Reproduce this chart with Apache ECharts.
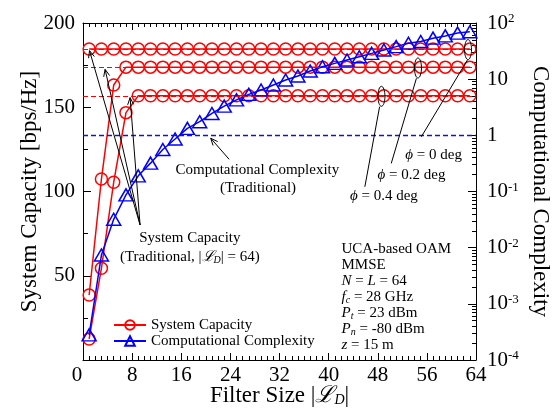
<!DOCTYPE html>
<html><head><meta charset="utf-8">
<script src="https://cdn.jsdelivr.net/npm/echarts@6/dist/echarts.min.js"></script>
<style>html,body{margin:0;padding:0;background:#fff}#c{width:560px;height:412px}</style>
</head><body><div id="c"></div>
<script>
// ---------------- data ----------------
const filterSize = [1,3,5,7,9,11,13,15,17,19,21,23,25,27,29,31,33,35,37,39,41,43,45,47,49,51,53,55,57,59,61,63];
const capPhi0  = [184.6,184.6,184.6,184.6,184.6,184.6,184.6,184.6,184.6,184.6,184.6,184.6,184.6,184.6,184.6,184.6,
                  184.6,184.6,184.6,184.6,184.6,184.6,184.6,184.6,184.6,184.6,184.6,184.6,184.6,184.6,184.6,184.6];
const capPhi02 = [38.6,107.4,163.2,173.8,173.8,173.8,173.8,173.8,173.8,173.8,173.8,173.8,173.8,173.8,173.8,173.8,
                  173.8,173.8,173.8,173.8,173.8,173.8,173.8,173.8,173.8,173.8,173.8,173.8,173.8,173.8,173.8,173.8];
const capPhi04 = [12.5,54.4,105.5,146.8,156.8,156.8,156.8,156.8,156.8,156.8,156.8,156.8,156.8,156.8,156.8,156.8,
                  156.8,156.8,156.8,156.8,156.8,156.8,156.8,156.8,156.8,156.8,156.8,156.8,156.8,156.8,156.8,156.8];
const complexity = [2.8e-4,7.4e-3,0.032,0.087,0.19,0.32,0.56,0.86,1.33,1.75,2.45,3.31,4.27,5.37,6.41,7.87,
                    9.66,11.4,14.0,16.6,19.1,21.9,25.1,28.8,33.1,38.0,43.7,46.8,53.7,58.9,66.1,70.0];
const tradCapacity = [184.6,173.8,156.8];   // Traditional, |L_D| = 64
const tradComplexity = [1];                 // Traditional
const phiLabels = ['0','0.2','0.4'];

// ---------------- style ----------------
const FONT = "'Liberation Serif','DejaVu Serif',serif";
const RED = '#ff0000', BLUE = '#0000ff', BLACK = '#000';
const TICK = 21, NAME = 23, SMALL = 15;

const chart = echarts.init(document.getElementById('c'), null, {renderer:'canvas'});

const axisLineStyle = {show:true, onZero:false, lineStyle:{color:BLACK, width:1}};
function capSeries(arr, mark) {
  const s = {
    name:'System Capacity', type:'line', xAxisIndex:0, yAxisIndex:0,
    data: filterSize.map((x,i)=>[x, arr[i]]),
    symbol:'circle', symbolSize:12, showAllSymbol:true,
    lineStyle:{color:RED, width:1.5},
    itemStyle:{color:'rgba(255,255,255,0)', borderColor:RED, borderWidth:1.5},
    emphasis:{disabled:true}, z:3
  };
  if (mark) s.markLine = {
    silent:true, symbol:['none','none'], label:{show:false},
    lineStyle:{color:RED, type:[5,3], width:1.2},
    data: tradCapacity.map(v=>({yAxis:v}))
  };
  return s;
}

const logMinor = [];
for (let n=-4; n<2; n++) for (let k=2; k<10; k++) logMinor.push(n + Math.log10(k));

const option = {
  animation:false,
  backgroundColor:'#fff',
  grid:{left:83, right:84, top:23, bottom:52, containLabel:false, outerBoundsMode:'none'},
  legend:{
    orient:'vertical', left:113, top:317, padding:0, itemWidth:32, itemHeight:12, itemGap:0,
    textStyle:{fontFamily:FONT, fontSize:SMALL, color:BLACK, lineHeight:16},
    data:['System Capacity','Computational Complexity']
  },
  xAxis:[
    {type:'value', min:0, max:64, interval:8, position:'bottom',
     axisLine:axisLineStyle,
     axisTick:{show:true, inside:true, length:7, lineStyle:{color:BLACK}},
     minorTick:{show:true, splitNumber:8, length:4, lineStyle:{color:BLACK}},
     splitLine:{show:false}, minorSplitLine:{show:false},
     axisLabel:{fontFamily:FONT, fontSize:TICK, color:BLACK, margin:5,
       formatter:v=> v===0 ? '{z|0}' : String(v),
       rich:{z:{fontFamily:FONT, fontSize:TICK, color:BLACK, padding:[0,12,0,0]}}},
     name:'Filter Size |{L|ℒ}{sub|D}|', nameLocation:'middle', nameGap:24, nameMoveOverlap:false,
     nameTextStyle:{fontFamily:FONT, fontSize:NAME, color:BLACK,
       rich:{L:{fontFamily:FONT, fontSize:NAME, color:BLACK, fontStyle:'italic'},
             sub:{fontFamily:FONT, fontSize:14, color:BLACK, fontStyle:'italic', verticalAlign:'bottom', lineHeight:8}}}
    },
    {type:'value', min:0, max:64, interval:8, position:'top',
     axisLine:axisLineStyle,
     axisTick:{show:true, inside:true, length:7, lineStyle:{color:BLACK}},
     minorTick:{show:true, splitNumber:8, length:4, lineStyle:{color:BLACK}},
     splitLine:{show:false}, axisLabel:{show:false}}
  ],
  yAxis:[
    {type:'value', min:0, max:200, interval:50, position:'left',
     axisLine:axisLineStyle,
     axisTick:{show:true, inside:true, length:8, lineStyle:{color:BLACK}},
     minorTick:{show:true, splitNumber:2, length:5, lineStyle:{color:BLACK}},
     splitLine:{show:false}, minorSplitLine:{show:false},
     axisLabel:{fontFamily:FONT, fontSize:TICK, color:BLACK, margin:8, formatter:v=> v===0 ? '' : String(v)},
     name:'System Capacity [bps/Hz]', nameLocation:'middle', nameRotate:90, nameGap:42, nameMoveOverlap:false,
     nameTextStyle:{fontFamily:FONT, fontSize:NAME, color:BLACK}
    },
    {type:'log', logBase:10, min:1e-4, max:100, position:'right',
     axisLine:axisLineStyle,
     axisTick:{show:true, inside:true, length:8, lineStyle:{color:BLACK}},
     splitLine:{show:false},
     axisLabel:{fontFamily:FONT, fontSize:TICK, color:BLACK, margin:11, align:'left',
       formatter:v=>{ const n=Math.round(Math.log10(v)); return n===0?'1':(n===1?'10':'10{sup|'+n+'}'); },
       rich:{sup:{fontFamily:FONT, fontSize:13, color:BLACK, verticalAlign:'top', lineHeight:12}}},
     name:'Computational Complexity', nameLocation:'middle', nameRotate:-90, nameGap:53, nameMoveOverlap:false,
     nameTextStyle:{fontFamily:FONT, fontSize:NAME, color:BLACK}
    },
    {type:'value', min:-4, max:2, position:'right',
     axisLine:{show:false, onZero:false},
     axisTick:{show:true, inside:true, length:4, customValues:logMinor, lineStyle:{color:BLACK}},
     axisLabel:{show:false}, splitLine:{show:false}}
  ],
  series:[
    capSeries(capPhi0, true),
    capSeries(capPhi02, false),
    capSeries(capPhi04, false),
    {name:'Computational Complexity', type:'line', xAxisIndex:0, yAxisIndex:1,
     data: filterSize.map((x,i)=>[x, complexity[i]]),
     symbol:'triangle', symbolSize:[14,12], showAllSymbol:true,
     lineStyle:{color:BLUE, width:1.5},
     itemStyle:{color:'rgba(255,255,255,0)', borderColor:BLUE, borderWidth:1.5},
     emphasis:{disabled:true}, z:4,
     markLine:{silent:true, symbol:['none','none'], label:{show:false},
       lineStyle:{color:'#1010e0', type:[5,3], width:1.3, opacity:1},
       data: tradComplexity.map(v=>({yAxis:v}))}
    }
  ]
};
chart.setOption(option);

// ---------------- annotations (anchored in data coordinates) ----------------
function P(x, v){ return chart.convertToPixel({xAxisIndex:0, yAxisIndex:0}, [x, v]); }
function line(a, b){ return {type:'line', silent:true, z:50, shape:{x1:a[0],y1:a[1],x2:b[0],y2:b[1]}, style:{stroke:BLACK, lineWidth:1}}; }
function arrow(tail, head){
  const dx=head[0]-tail[0], dy=head[1]-tail[1], L=Math.hypot(dx,dy), ux=dx/L, uy=dy/L, hl=7, hw=3;
  const a=[head[0]-ux*hl-uy*hw, head[1]-uy*hl+ux*hw], b=[head[0]-ux*hl+uy*hw, head[1]-uy*hl-ux*hw];
  return [line(tail, head), {type:'polyline', silent:true, z:50, shape:{points:[a, head, b]}, style:{stroke:BLACK, lineWidth:1, fill:null}}];
}
const richSmall = {
  i:{fontFamily:FONT, fontSize:SMALL, fill:BLACK, fontStyle:'italic'},
  sub:{fontFamily:FONT, fontSize:10, fill:BLACK, fontStyle:'italic', verticalAlign:'bottom', lineHeight:6}
};
function text(str, p, align, vAlign, lh){
  return {type:'text', silent:true, z:50, style:{text:str, x:p[0], y:p[1], fill:BLACK, fontFamily:FONT, fontSize:SMALL,
    align:align||'center', verticalAlign:vAlign||'middle', lineHeight:lh||16, rich:richSmall}};
}
const g = [];
// System Capacity (Traditional) arrows
const scTail = P(9.3, 80.1);
[[1.06,183.6],[3.6,172.5],[7.67,155.7]].forEach(h=>g.push(...arrow(scTail, P(h[0],h[1]))));
g.push(text('System Capacity', P(17.4, 72.4)));
g.push(text('(Traditional, |{i|ℒ}{sub|D}| = 64)', P(17.4, 61.1)));
// Computational Complexity (Traditional) arrow
g.push(...arrow(P(23.8,119.1), P(20.8,131.6)));
g.push(text('Computational Complexity', P(28.4, 112.8)));
g.push(text('(Traditional)', P(28.5, 102.1)));
// phi ellipses + leaders
const ell = [[62.7,184.2],[54.55,173.3],[48.6,156.5]];
const lead = [[[62.6,178],[55.1,132.5]],[[54.3,167.2],[50.2,116.7]],[[48.3,150.3],[45.9,102.8]]];
const lab = [[57.1,121.7],[53.5,109.8],[49.0,97.3]];
ell.forEach((e,k)=>{
  const c = P(e[0], e[1]);
  g.push({type:'ellipse', silent:true, z:50, shape:{cx:c[0], cy:c[1], rx:3.5, ry:10}, style:{stroke:BLACK, lineWidth:1, fill:null}});
  g.push(line(P(lead[k][0][0],lead[k][0][1]), P(lead[k][1][0],lead[k][1][1])));
  g.push(text('{i|ϕ} = ' + phiLabels[k] + ' deg', P(lab[k][0], lab[k][1])));
});
// parameter block
g.push(text('UCA-based OAM\nMMSE\n{i|N} = {i|L} = 64\n{i|f}{sub|c} = 28 GHz\n{i|P}{sub|t} = 23 dBm\n{i|P}{sub|n} = -80 dBm\n{i|z} = 15 m',
  P(42.1, 70.5), 'left', 'top', 16));
chart.setOption({graphic:{elements:g}});
</script>
</body></html>
